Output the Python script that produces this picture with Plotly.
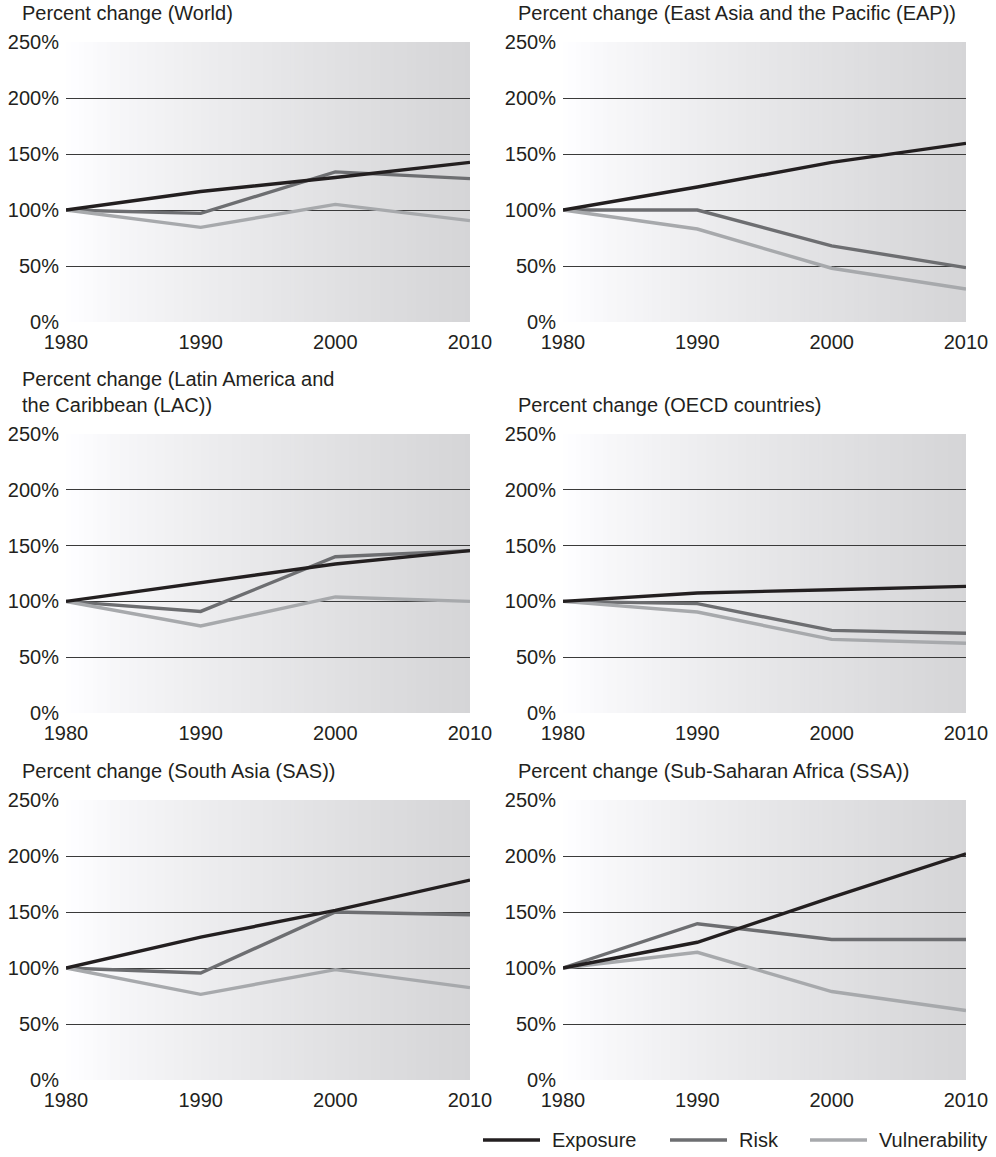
import plotly.graph_objects as go

# ---- data -------------------------------------------------------------
years = [1980, 1990, 2000, 2010]
y_ticks = [0, 50, 100, 150, 200, 250]
y_tick_labels = ["0%", "50%", "100%", "150%", "200%", "250%"]

panel_titles = [
    "Percent change (World)",
    "Percent change (East Asia and the Pacific (EAP))",
    "Percent change (Latin America and<br>the Caribbean (LAC))",
    "Percent change (OECD countries)",
    "Percent change (South Asia (SAS))",
    "Percent change (Sub-Saharan Africa (SSA))",
]

exposure_world = [100, 116.5, 129, 142.5]
risk_world = [100, 97, 134, 128]
vulnerability_world = [100, 84.5, 105, 90.5]

exposure_eap = [100, 120.5, 142.5, 159.5]
risk_eap = [100, 100, 68, 48.5]
vulnerability_eap = [100, 83, 48, 29.5]

exposure_lac = [100, 116.5, 133.5, 145.5]
risk_lac = [100, 91, 140, 145.5]
vulnerability_lac = [100, 78, 104, 100]

exposure_oecd = [100, 107.5, 110.5, 113.5]
risk_oecd = [100, 98, 74, 71.5]
vulnerability_oecd = [100, 90.5, 66, 62.5]

exposure_sas = [100, 127.5, 151.5, 178.5]
risk_sas = [100, 95.5, 150, 147.5]
vulnerability_sas = [100, 76.5, 98.5, 82.5]

exposure_ssa = [100, 123, 163, 202]
risk_ssa = [100, 139.5, 125.5, 125.5]
vulnerability_ssa = [100, 114, 79, 62]

series_names = ["Exposure", "Risk", "Vulnerability"]
series_colors = ["#231f20", "#6d6e71", "#a7a9ac"]

panels = [
    (exposure_world, risk_world, vulnerability_world),
    (exposure_eap, risk_eap, vulnerability_eap),
    (exposure_lac, risk_lac, vulnerability_lac),
    (exposure_oecd, risk_oecd, vulnerability_oecd),
    (exposure_sas, risk_sas, vulnerability_sas),
    (exposure_ssa, risk_ssa, vulnerability_ssa),
]

# ---- layout geometry (pixels) ----------------------------------------
W, H = 996, 1157
col_px = [(66, 470), (563, 966)]
row_px = [(42, 322), (434, 713), (800, 1080)]
title_x_px = [20, 516]
FONT = "Liberation Sans, Arial, Helvetica, sans-serif"
TEXT = "#231f20"

# legend key: (swatch start, swatch end, label start) in pixels, row height
key_px = [(483, 540, 550), (670, 727, 737), (810, 867, 877)]
key_y_px = 1140


def px_x(x):
    return x / W


def px_y(y):
    return 1 - y / H


fig = go.Figure()
layout = dict(
    width=W, height=H, autosize=False,
    margin=dict(l=0, r=0, t=0, b=0, pad=0, autoexpand=False),
    paper_bgcolor="white", plot_bgcolor="rgba(0,0,0,0)",
    font=dict(family=FONT, size=20, color=TEXT),
    showlegend=False,
)
shapes = []
annotations = []

# draw order: Risk, Vulnerability, then Exposure on top
draw_order = [1, 2, 0]

for p, series in enumerate(panels):
    r, c = divmod(p, 2)
    idx = p + 1
    xa = "xaxis" if idx == 1 else f"xaxis{idx}"
    ya = "yaxis" if idx == 1 else f"yaxis{idx}"
    xr = "x" if idx == 1 else f"x{idx}"
    yr = "y" if idx == 1 else f"y{idx}"
    x0, x1 = col_px[c]
    top, bot = row_px[r]

    layout[xa] = dict(
        domain=[px_x(x0), px_x(x1)], anchor=yr, range=[1980, 2010],
        tickvals=years, showgrid=False, zeroline=False, showline=False,
        ticks="", tickfont=dict(size=20, color=TEXT), ticklabelstandoff=6,
        fixedrange=True, automargin=False,
    )
    layout[ya] = dict(
        domain=[px_y(bot), px_y(top)], anchor=xr, range=[0, 250],
        tickvals=y_ticks, ticktext=y_tick_labels, showgrid=True,
        gridcolor="#3a3a3a", gridwidth=1.2, zeroline=False, showline=False,
        ticks="", tickfont=dict(size=20, color=TEXT), ticklabelstandoff=6,
        fixedrange=True, automargin=False,
    )

    # horizontal white-to-grey background ramp
    n = 90
    for i in range(n):
        t = (i + 0.5) / n
        v = int(round(255 - 42 * t ** 0.8))
        shapes.append(dict(
            type="rect", xref=f"{xr} domain", yref=f"{yr} domain",
            x0=i / n, x1=min(1, (i + 1.6) / n), y0=0, y1=1,
            fillcolor=f"rgb({v},{v},{min(255, v + 2)})", line=dict(width=0),
            layer="below",
        ))

    for s in draw_order:
        fig.add_trace(go.Scatter(
            x=years, y=series[s], mode="lines", name=series_names[s],
            line=dict(color=series_colors[s], width=3.4),
            xaxis=xr, yaxis=yr, showlegend=False, hoverinfo="skip",
        ))

    annotations.append(dict(
        text=panel_titles[p], xref="paper", yref="paper",
        x=px_x(title_x_px[c]), y=px_y(top - 16), xanchor="left",
        yanchor="bottom", align="left", showarrow=False,
        font=dict(size=20, color=TEXT),
    ))

# series key below the bottom-right panel
for s, (k0, k1, kt) in enumerate(key_px):
    shapes.append(dict(
        type="line", xref="paper", yref="paper",
        x0=px_x(k0), x1=px_x(k1), y0=px_y(key_y_px), y1=px_y(key_y_px),
        line=dict(color=series_colors[s], width=3.5),
    ))
    annotations.append(dict(
        text=series_names[s], xref="paper", yref="paper",
        x=px_x(kt), y=px_y(key_y_px), xanchor="left", yanchor="middle",
        showarrow=False, font=dict(size=20, color=TEXT),
    ))

layout["shapes"] = shapes
layout["annotations"] = annotations
fig.update_layout(**layout)
fig.write_html("out.html")
